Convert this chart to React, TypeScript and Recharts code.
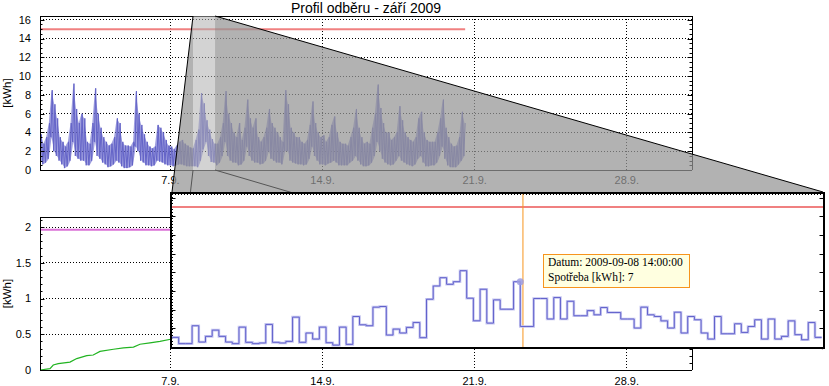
import React from "react";
import {
  ComposedChart,
  Line,
  Area,
  XAxis,
  YAxis,
  CartesianGrid,
  ReferenceLine,
  ReferenceDot,
} from "recharts";

// ---------------- canvas / fonts ----------------
const WIDTH = 829;
const HEIGHT = 386;
const SANS = '"Liberation Sans", Arial, Helvetica, sans-serif';
const SERIF = '"Liberation Serif", "Times New Roman", serif';

// ---------------- texts ----------------
const TITLE = "Profil odběru - září 2009";
const Y_UNIT = "[kWh]";

// ---------------- shared x axis (day of month, September 2009) ----------------
const X_DOMAIN: [number, number] = [1, 31];
const WEEK_TICKS = [7, 14, 21, 28];
const weekLabel = (d: number) => `${d}.9.`;
const DAY_TICKS = [2, 3, 4, 5, 6, 7, 8, 9, 10, 11, 12, 13, 14, 15, 16, 17, 18, 19, 20, 21, 22, 23, 24, 25, 26, 27, 28, 29, 30];

// ---------------- top chart (15-min consumption, envelope per 3 h slot) ----------------
const TOP_Y_DOMAIN: [number, number] = [0, 16.4];
const TOP_Y_TICKS = [0, 2, 4, 6, 8, 10, 12, 14, 16];
const TOP_LIMIT = 15;
const SLOT_DAYS = 0.125;
const topLow = [
  1.0, 0.6, 0.8, 1.2, 3.5, 2.0, 1.5, 1.0,
  0.6, 0.2, 0.4, 1.0, 3.0, 1.5, 1.2, 1.0,
  1.0, 0.5, 0.5, 1.0, 3.0, 1.5, 1.2, 0.8,
  0.6, 0.3, 0.4, 0.6, 1.0, 0.8, 0.4, 0.2,
  0.2, 0.3, 0.5, 2.5, 2.0, 1.0, 0.8, 0.5,
  0.5, 0.4, 0.5, 1.0, 0.9, 0.8, 0.6, 0.5,
  0.5, 0.4, 0.5, 0.6, 0.6, 0.5, 0.4, 0.4,
  0.4, 0.4, 0.3, 1.0, 2.2, 3.0, 1.5, 0.85,
  0.8, 0.5, 0.8, 1.5, 3.0, 1.5, 1.0, 0.8,
  0.8, 0.5, 0.6, 1.0, 2.5, 1.5, 1.0, 0.8,
  0.8, 0.6, 0.7, 1.0, 2.0, 1.2, 1.0, 0.8,
  0.8, 0.6, 2.0, 2.0, 1.0, 0.8, 0.7, 0.6,
  0.6, 0.5, 0.6, 1.2, 2.5, 1.5, 1.0, 0.6,
  0.6, 0.5, 0.7, 0.8, 1.0, 0.8, 0.5, 0.5,
  0.5, 0.5, 0.8, 1.0, 1.5, 1.0, 0.6, 0.4,
  0.4, 0.5, 0.8, 1.5, 3.0, 2.0, 1.2, 0.8,
  0.6, 0.5, 0.6, 1.0, 1.5, 1.0, 0.8, 0.6,
  0.5, 0.4, 0.6, 1.2, 1.5, 0.8, 0.4, 0.4,
  0.5, 0.5, 0.8, 1.5, 2.5, 1.2, 0.5, 0.3,
  0.3, 0.3, 0.6, 1.0, 1.5,
];
const topHigh = [
  3.8, 2.8, 3.5, 5.0, 8.5, 7.0, 5.5, 3.5,
  3.0, 2.5, 3.0, 5.0, 9.2, 6.5, 5.0, 6.0,
  5.5, 3.0, 2.8, 5.0, 8.7, 6.0, 4.5, 3.5,
  3.0, 2.6, 2.8, 3.5, 5.5, 5.0, 3.0, 2.6,
  2.6, 2.5, 3.0, 8.4, 6.0, 4.8, 3.8, 3.0,
  2.5, 2.3, 2.5, 4.8, 4.5, 4.0, 3.2, 2.6,
  2.5, 2.2, 2.6, 3.0, 3.2, 2.8, 2.6, 2.4,
  2.3, 3.2, 4.3, 8.2, 7.1, 5.3, 4.3, 3.3,
  2.8, 2.8, 3.5, 5.0, 8.4, 6.0, 5.0, 4.0,
  3.5, 5.0, 3.2, 4.5, 7.5, 5.5, 4.5, 5.5,
  3.5, 3.0, 3.5, 4.5, 6.5, 5.0, 4.5, 4.0,
  3.5, 3.0, 8.5, 7.0, 4.5, 4.0, 3.5, 3.5,
  3.0, 2.8, 3.2, 4.8, 7.3, 5.0, 4.0, 3.5,
  3.7, 3.0, 3.5, 4.8, 5.7, 4.0, 3.0, 2.8,
  2.8, 2.6, 3.5, 4.5, 6.5, 4.5, 3.5, 2.8,
  3.0, 2.8, 4.5, 6.0, 9.1, 6.6, 5.0, 4.0,
  4.0, 3.2, 3.5, 4.0, 6.8, 5.3, 4.0, 3.5,
  3.2, 3.0, 3.5, 5.5, 6.2, 4.0, 3.2, 3.0,
  3.0, 3.0, 4.0, 5.5, 7.5, 4.5, 3.5, 2.8,
  2.5, 2.6, 3.5, 6.2, 5.0,
];

// ---------------- bottom chart (cumulative) ----------------
const BOTTOM_Y_DOMAIN: [number, number] = [0, 2.14];
const BOTTOM_Y_TICKS = [0, 0.5, 1, 1.5, 2];
const BOTTOM_LIMIT = 1.96;
const cumDays = [1.0, 1.46, 1.61, 1.84, 2.38, 2.69, 3.15, 3.45, 3.76, 4.38, 4.84, 5.3, 5.6, 6.06, 6.52, 7.01, 7.5, 8.0];
const cumValues = [0, 0.02, 0.07, 0.09, 0.11, 0.16, 0.2, 0.21, 0.26, 0.29, 0.31, 0.32, 0.36, 0.38, 0.4, 0.43, 0.46, 0.5];

// ---------------- inset (zoom of 8.9. 01:00 – 9.9. 01:18, 15-min steps) ----------------
const INSET_DATE = "2009-09-08";
const INSET_DAY = 8;
const INSET_X_DOMAIN: [number, number] = [1, 25.3];
const INSET_X_TICKS = [4, 8, 12, 16, 20, 24];
const INSET_HOUR_TICKS = [2, 3, 4, 5, 6, 7, 8, 9, 10, 11, 12, 13, 14, 15, 16, 17, 18, 19, 20, 21, 22, 23, 24, 25];
const INSET_Y_TICKS = [2, 4, 6, 8, 10, 12, 14, 16];
const QUARTER_H = 0.25;
const insetValues = [
  1.03, 0.36, 0.36, 2.28, 0.53, 1.14, 1.81, 1.14, 0.53, 0.36,
  2.13, 0.5, 0.36, 0.43, 2.42, 0.5, 0.43, 0.6, 3.2, 0.5,
  1.5, 0.85, 2.13, 0.46, 0.2, 2.13, 0.28, 3.27, 2.38, 2.28,
  4.27, 4.34, 1.28, 1.92, 1.5, 2.1, 2.63, 1.0, 5.12, 6.54,
  7.43, 6.72, 7.0, 8.18, 5.23, 2.81, 6.19, 2.56, 5.05, 4.05,
  4.05, 7.0,
  2.2, 2.2, 5.2, 5.2, 3.0, 5.3, 3.0, 4.9, 3.35, 3.35,
  3.9, 3.45, 4.23, 3.7, 3.7, 3.0, 3.0, 2.03, 4.27, 3.45,
  3.27, 2.8, 2.03, 3.73, 1.5, 3.27, 2.92, 1.5, 0.85, 3.27,
  1.42, 1.42, 2.49, 1.56, 2.2, 2.92, 0.85, 3.0, 0.85, 1.14,
  2.8, 1.32, 0.78, 2.63, 1.03,
];
const TOOLTIP_INDEX = 52; // point 2009-09-08 14:00
const CURSOR_HOUR = 14.1;

// ---------------- derived tables ----------------
const topZigzag = topLow.flatMap((lo, i) => [
  { t: X_DOMAIN[0] + i * SLOT_DAYS, v: lo },
  { t: X_DOMAIN[0] + (i + 0.5) * SLOT_DAYS, v: topHigh[i] },
]);
const topBand = topLow.map((lo, i) => ({ t: X_DOMAIN[0] + (i + 0.25) * SLOT_DAYS, lo, hi: topHigh[i] }));
const limitData = [
  { t: topZigzag[0].t, v: TOP_LIMIT },
  { t: topZigzag[topZigzag.length - 1].t, v: TOP_LIMIT },
];
const bottomLimitData = [
  { t: X_DOMAIN[0], v: BOTTOM_LIMIT },
  { t: X_DOMAIN[1], v: BOTTOM_LIMIT },
];
const cumData = cumDays.map((t, i) => ({ t, v: cumValues[i] }));
const insetData = [
  { h: INSET_X_DOMAIN[0], v: insetValues[0] },
  ...insetValues.map((v, k) => ({ h: INSET_X_DOMAIN[0] + QUARTER_H * (k + 1), v })),
];
const tipPoint = insetData[TOOLTIP_INDEX];
const pad2 = (n: number) => String(n).padStart(2, "0");
const tipTime = `${pad2(Math.floor(tipPoint.h))}:${pad2(Math.round((tipPoint.h % 1) * 60))}:00`;

const range = (a: number, b: number, s: number) => {
  const out: number[] = [];
  for (let v = a; v <= b + 1e-9; v += s) out.push(Math.round(v * 1000) / 1000);
  return out;
};
const TOP_Y_MINOR = range(0, 16, 0.5);
const BOTTOM_Y_MINOR = range(0, 2.1, 0.1);

// ---------------- layout (plot rectangles) ----------------
type Rect = { left: number; top: number; right: number; bottom: number };
const TOP: Rect = { left: 40, top: 16, right: 692, bottom: 170 };
const BOT: Rect = { left: 40, top: 217, right: 692, bottom: 370 };
const INS: Rect = { left: 172, top: 194, right: 823, bottom: 347 };
const INSET_BORDER = 2;

const AXIS_LINE = { stroke: "#000", strokeWidth: 1, shapeRendering: "crispEdges" };
const TICK_TEXT = { fill: "#000", fontSize: 11, fontFamily: SANS };

const xMarks = (r: Rect, majors: number[], maj: number, min: number) => (p: any) => {
  const x = Math.round(p.x) + 0.5;
  const len = majors.includes(p.payload.value) ? maj : min;
  return (
    <g>
      <line x1={x} x2={x} y1={r.top} y2={r.top + len} stroke="#000" />
      <line x1={x} x2={x} y1={r.bottom} y2={r.bottom - len} stroke="#000" />
    </g>
  );
};
const yMarks = (r: Rect, majors: number[], maj: number, min: number) => (p: any) => {
  const y = Math.round(p.y) + 0.5;
  const len = majors.includes(p.payload.value) ? maj : min;
  return (
    <g>
      <line x1={r.left} x2={r.left + len} y1={y} y2={y} stroke="#000" />
      <line x1={r.right} x2={r.right - len} y1={y} y2={y} stroke="#000" />
    </g>
  );
};

const xTop = (d: number) =>
  TOP.left + ((d - X_DOMAIN[0]) / (X_DOMAIN[1] - X_DOMAIN[0])) * (TOP.right - TOP.left);

const abs: React.CSSProperties = { position: "absolute", left: 0, top: 0 };

function TopChart() {
  return (
    <ComposedChart
      width={WIDTH}
      height={HEIGHT}
      margin={{ top: TOP.top - 1, right: WIDTH - TOP.right - 1, bottom: HEIGHT - TOP.bottom - 20, left: 0 }}
    >
      <CartesianGrid xAxisId="b" yAxisId="l" stroke="#000" strokeDasharray="1 2" shapeRendering="crispEdges" />
      <XAxis xAxisId="b" dataKey="t" type="number" domain={X_DOMAIN} allowDataOverflow ticks={WEEK_TICKS}
        tickFormatter={weekLabel} interval={0} height={20} tickSize={0} tickMargin={6} tickLine={false}
        axisLine={AXIS_LINE} tick={TICK_TEXT} />
      <XAxis xAxisId="t" orientation="top" type="number" domain={X_DOMAIN} allowDataOverflow ticks={DAY_TICKS}
        interval={0} height={1} tickSize={0} tickMargin={0} tickLine={false} axisLine={AXIS_LINE}
        tick={xMarks(TOP, WEEK_TICKS, 5, 2.5)} />
      <YAxis yAxisId="l" type="number" domain={TOP_Y_DOMAIN} allowDataOverflow ticks={TOP_Y_TICKS} interval={0}
        width={TOP.left} tickSize={0} tickMargin={9} tickLine={false} axisLine={AXIS_LINE} tick={TICK_TEXT} />
      <YAxis yAxisId="r" orientation="right" type="number" domain={TOP_Y_DOMAIN} allowDataOverflow
        ticks={TOP_Y_MINOR} interval={0} width={1} tickSize={0} tickMargin={0} tickLine={false}
        axisLine={AXIS_LINE} tick={yMarks(TOP, TOP_Y_TICKS, 4.5, 2.5)} />
      <Area xAxisId="b" yAxisId="l" data={topBand} dataKey={(d: any) => [d.lo, d.hi]} type="linear"
        fill="#6666cc" fillOpacity={0.62} stroke="none" dot={false} activeDot={false}
        isAnimationActive={false} />
      <Line xAxisId="b" yAxisId="l" data={topZigzag} dataKey="v" type="linear" stroke="#6464c8" strokeWidth={1}
        dot={false} activeDot={false} isAnimationActive={false} />
      <Line xAxisId="b" yAxisId="l" data={limitData} dataKey="v" type="linear" stroke="#f08080" strokeWidth={2}
        dot={false} activeDot={false} isAnimationActive={false} />
    </ComposedChart>
  );
}

function BottomChart() {
  return (
    <ComposedChart
      width={WIDTH}
      height={HEIGHT}
      margin={{ top: BOT.top - 1, right: WIDTH - BOT.right - 1, bottom: HEIGHT - BOT.bottom - 16, left: 0 }}
    >
      <CartesianGrid xAxisId="b" yAxisId="l" stroke="#000" strokeDasharray="1 2" shapeRendering="crispEdges" />
      <XAxis xAxisId="b" dataKey="t" type="number" domain={X_DOMAIN} allowDataOverflow ticks={WEEK_TICKS}
        tickFormatter={weekLabel} interval={0} height={16} tickSize={0} tickMargin={7} tickLine={false}
        axisLine={AXIS_LINE} tick={TICK_TEXT} />
      <XAxis xAxisId="t" orientation="top" type="number" domain={X_DOMAIN} allowDataOverflow ticks={DAY_TICKS}
        interval={0} height={1} tickSize={0} tickMargin={0} tickLine={false} axisLine={AXIS_LINE}
        tick={xMarks(BOT, WEEK_TICKS, 5, 2.5)} />
      <YAxis yAxisId="l" type="number" domain={BOTTOM_Y_DOMAIN} allowDataOverflow ticks={BOTTOM_Y_TICKS}
        interval={0} width={BOT.left} tickSize={0} tickMargin={9} tickLine={false} axisLine={AXIS_LINE}
        tick={TICK_TEXT} />
      <YAxis yAxisId="r" orientation="right" type="number" domain={BOTTOM_Y_DOMAIN} allowDataOverflow
        ticks={BOTTOM_Y_MINOR} interval={0} width={1} tickSize={0} tickMargin={0} tickLine={false}
        axisLine={AXIS_LINE} tick={yMarks(BOT, BOTTOM_Y_TICKS, 4.5, 2.5)} />
      <Line xAxisId="b" yAxisId="l" data={bottomLimitData} dataKey="v" type="linear" stroke="#da70d6"
        strokeWidth={2} dot={false} activeDot={false} isAnimationActive={false} />
      <Line xAxisId="b" yAxisId="l" data={cumData} dataKey="v" type="linear" stroke="#22b422" strokeWidth={1.2}
        dot={false} activeDot={false} isAnimationActive={false} />
    </ComposedChart>
  );
}

function InsetChart() {
  return (
    <ComposedChart
      width={WIDTH}
      height={HEIGHT}
      margin={{ top: INS.top - 1, right: WIDTH - INS.right - 1, bottom: HEIGHT - INS.bottom - 1, left: INS.left - 1 }}
    >
      <CartesianGrid xAxisId="ib" yAxisId="il" stroke="#000" strokeDasharray="1 2" shapeRendering="crispEdges" />
      <XAxis xAxisId="ib" dataKey="h" type="number" domain={INSET_X_DOMAIN} allowDataOverflow ticks={INSET_X_TICKS}
        interval={0} height={1} tick={false} tickLine={false} axisLine={false} />
      <XAxis xAxisId="it" orientation="top" type="number" domain={INSET_X_DOMAIN} allowDataOverflow
        ticks={INSET_HOUR_TICKS} interval={0} height={1} tickSize={0} tickMargin={0} tickLine={false}
        axisLine={false} tick={xMarks(INS, INSET_X_TICKS, 5, 2.5)} />
      <YAxis yAxisId="il" type="number" domain={TOP_Y_DOMAIN} allowDataOverflow ticks={INSET_Y_TICKS} interval={0}
        width={1} tick={false} tickLine={false} axisLine={false} />
      <YAxis yAxisId="ir" orientation="right" type="number" domain={TOP_Y_DOMAIN} allowDataOverflow
        ticks={INSET_Y_TICKS} interval={0} width={1} tickSize={0} tickMargin={0} tickLine={false} axisLine={false}
        tick={yMarks(INS, INSET_Y_TICKS, 3.5, 3.5)} />
      <ReferenceLine xAxisId="ib" yAxisId="il" y={TOP_LIMIT} stroke="#f08080" strokeWidth={2} />
      <ReferenceLine xAxisId="ib" yAxisId="il" x={CURSOR_HOUR} stroke="#f7941d" strokeWidth={1} />
      <Line xAxisId="ib" yAxisId="il" data={insetData} dataKey="v" type="stepBefore" stroke="#c6c6f0"
        strokeWidth={2.6} dot={false} activeDot={false} isAnimationActive={false} />
      <Line xAxisId="ib" yAxisId="il" data={insetData} dataKey="v" type="stepBefore" stroke="#6262cc"
        strokeWidth={1} dot={false} activeDot={false} isAnimationActive={false} />
      <ReferenceDot xAxisId="ib" yAxisId="il" x={tipPoint.h} y={tipPoint.v} r={3.5} fill="#9c9ce0"
        fillOpacity={0.85} stroke="none" />
    </ComposedChart>
  );
}

function ZoomOverlay() {
  const xs = xTop(INSET_DAY + INSET_X_DOMAIN[0] / 24);
  const xe = xTop(INSET_DAY + INSET_X_DOMAIN[1] / 24);
  const bt = INS.top - INSET_BORDER;
  const bb = INS.bottom + INSET_BORDER;
  const path = `M${xs},${TOP.top} L${xs},${TOP.bottom} L${xe},${TOP.bottom} L${xe},${TOP.top} L${INS.right},${bt} L${INS.left},${bt} Z`;
  return (
    <svg width={WIDTH} height={HEIGHT} style={abs}>
      <path d={path} fill="rgb(150,150,150)" fillOpacity={0.73} />
      <rect x={xs} y={TOP.top} width={xe - xs} height={TOP.bottom - TOP.top} fill="rgb(175,175,175)" fillOpacity={0.55} />
      <line x1={xs} y1={TOP.bottom} x2={INS.left} y2={bb} stroke="#555" />
      <line x1={xe} y1={TOP.bottom} x2={INS.right} y2={bb} stroke="#555" />
      <line x1={xs} y1={TOP.top} x2={INS.left} y2={bt} stroke="#000" />
      <line x1={xe} y1={TOP.top} x2={INS.right} y2={bt} stroke="#000" />
    </svg>
  );
}

function TooltipBox() {
  return (
    <div
      style={{
        position: "absolute",
        left: 543,
        top: 254,
        width: 147,
        height: 34,
        boxSizing: "border-box",
        border: "1px solid #f7941d",
        background: "#ffffe0",
        fontFamily: SERIF,
        fontSize: 11.5,
        lineHeight: "15px",
        padding: "0 0 0 4px",
        color: "#000",
        whiteSpace: "nowrap",
      }}
    >
      <div>{`Datum: ${INSET_DATE} ${tipTime}`}</div>
      <div>{`Spotřeba [kWh]: ${tipPoint.v}`}</div>
    </div>
  );
}

function TextOverlay() {
  return (
    <svg width={WIDTH} height={HEIGHT} style={abs}>
      <text x={(TOP.left + TOP.right) / 2} y={12.5} textAnchor="middle" fontSize={14} fontFamily={SANS} fill="#000">
        {TITLE}
      </text>
      <text transform={`translate(11, ${(TOP.top + TOP.bottom) / 2}) rotate(-90)`} textAnchor="middle"
        fontSize={11.5} fontFamily={SANS} fill="#000">
        {Y_UNIT}
      </text>
      <text transform={`translate(11, ${(BOT.top + BOT.bottom) / 2}) rotate(-90)`} textAnchor="middle"
        fontSize={11.5} fontFamily={SANS} fill="#000">
        {Y_UNIT}
      </text>
    </svg>
  );
}

export default function App() {
  return (
    <div style={{ position: "absolute", left: 0, top: 0, width: WIDTH, height: HEIGHT, background: "#fff", overflow: "hidden" }}>
      <div style={abs}><BottomChart /></div>
      <div style={abs}><TopChart /></div>
      <ZoomOverlay />
      <div
        style={{
          position: "absolute",
          left: INS.left - INSET_BORDER,
          top: INS.top - INSET_BORDER,
          width: INS.right - INS.left + 2 * INSET_BORDER,
          height: INS.bottom - INS.top + 2 * INSET_BORDER,
          boxSizing: "border-box",
          border: `${INSET_BORDER}px solid #000`,
          background: "#fff",
        }}
      />
      <div style={abs}><InsetChart /></div>
      <TooltipBox />
      <TextOverlay />
    </div>
  );
}
